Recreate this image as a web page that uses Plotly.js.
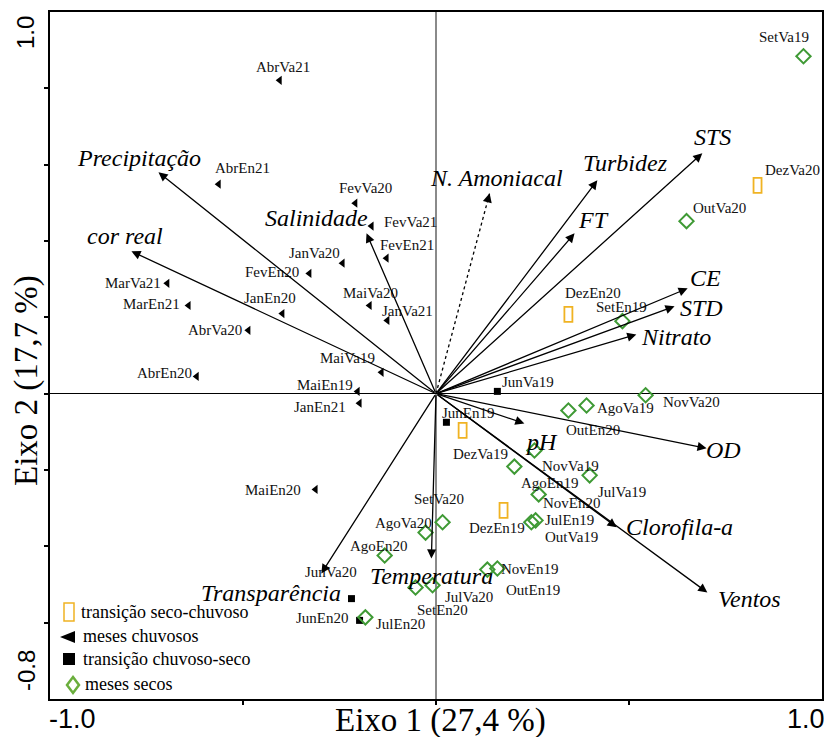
<!DOCTYPE html>
<html>
<head>
<meta charset="utf-8">
<script src="https://cdn.plot.ly/plotly-3.0.1.min.js"></script>
<style>html,body{margin:0;padding:0;background:#fff;}#chart{width:824px;height:737px;}</style>
</head>
<body>
<div id="chart"></div>
<script>
// ---------- DATA ----------
// meses chuvosos (rainy months)
const rainyNames = ["AbrVa21","AbrEn21","FevVa20","FevVa21","FevEn21","JanVa20","FevEn20","MaiVa20","JanVa21","JanEn20","MarVa21","MarEn21","AbrVa20","AbrEn20","MaiVa19","MaiEn19","JanEn21","MaiEn20"];
const rainyX = [-0.405,-0.563,-0.209,-0.167,-0.128,-0.242,-0.328,-0.172,-0.126,-0.398,-0.696,-0.641,-0.486,-0.620,-0.141,-0.203,-0.198,-0.312];
const rainyY = [0.821,0.549,0.499,0.439,0.355,0.342,0.315,0.231,0.192,0.210,0.289,0.231,0.166,0.045,0.056,0.006,-0.025,-0.251];

// transição chuvoso-seco
const transRDNames = ["JunVa19","JunEn19","JunVa20","JunEn20"];
const transRDX = [0.159,0.027,-0.219,-0.198];
const transRDY = [0.006,-0.075,-0.537,-0.594];

// transição seco-chuvoso
const transDRNames = ["DezVa20","DezEn20","DezVa19","DezEn19"];
const transDRX = [0.833,0.343,0.069,0.175];
const transDRY = [0.546,0.208,-0.096,-0.306];

// meses secos (dry months)
const dryNames = ["SetVa19","OutVa20","SetEn19","NovVa20","AgoVa19","OutEn20","NovVa19","AgoEn19","JulVa19","NovEn20","JulEn19","OutVa19","SetVa20","AgoVa20","AgoEn20","NovEn19","OutEn19","JulVa20","SetEn20","JulEn20"];
const dryX = [0.952,0.649,0.483,0.543,0.390,0.343,0.255,0.203,0.398,0.266,0.247,0.258,0.017,-0.027,-0.133,0.133,0.159,-0.009,-0.053,-0.183];
const dryY = [0.884,0.452,0.190,-0.004,-0.031,-0.044,-0.149,-0.191,-0.214,-0.264,-0.337,-0.332,-0.337,-0.364,-0.424,-0.461,-0.458,-0.502,-0.508,-0.586];

// environmental variables (arrows)
const varNames = ["Precipitação","cor real","Salinidade","N. Amoniacal","Turbidez","FT","STS","CE","STD","Nitrato","OD","pH","Clorofila-a","Ventos","Temperatura","Transparência"];
const varX = [-0.719,-0.789,-0.180,0.139,0.418,0.359,0.690,0.652,0.618,0.519,0.701,0.229,0.468,0.703,-0.012,-0.297];
const varY = [0.580,0.373,0.420,0.525,0.559,0.420,0.630,0.276,0.229,0.155,-0.143,-0.078,-0.350,-0.521,-0.432,-0.471];
const varDotted = [false,false,false,true,false,false,false,false,false,false,false,false,false,false,false,false];

// axis labels
const xTitle = "Eixo 1 (27,4 %)";
const yTitle = "Eixo 2 (17,7 %)";
const legendLabels = ["transição seco-chuvoso","meses chuvosos","transição chuvoso-seco","meses secos"];

// ---------- LABEL PLACEMENT (pixel offsets, label centre minus point) ----------
const rainyOff = [[3,-13],[24,-16],[10,-15],[39,-4],[20,-13],[-28,-10],[-37,-1],[1,-13],[20,-9],[-12,-16],[-34,0],[-37,-2],[-33,0],[-32,-3],[-34,-14],[-33,-6],[-40,4],[-43,1]];
const transRDOff = [[31,-9],[22,-9],[-20,-27],[-37,-2]];
const transDROff = [[35,-15],[25,-21],[18,24],[-7,18]];
const dryOff = [[-19,-19],[33,-13],[-1,-14],[46,7],[39,2],[25,20],[36,15],[36,16],[32,17],[33,9],[38,-2],[36,17],[-4,-23],[-22,-10],[-6,-9],[43,-1],[36,22],[36,12],[27,22],[35,7]];
const varOff = [[-19,-14],[-6,-15],[-50,-15],[7,-15],[28,-17],[19,-13],[10,-16],[18,-10],[27,2],[40,2],[17,2],[17,19],[63,0],[42,6],[0,17],[-50,20]];

// ---------- STYLE ----------
const SERIF = "Liberation Serif, Times New Roman, serif";
const SANS = "Liberation Sans, Arial, sans-serif";
const GREEN = "#3f9a35";
const ORANGE = "#f0b323";
const L = 50, T = 12, PW = 772, PH = 687;
const px = v => (v - L) / PW;
const py = v => (T + PH - v) / PH;

const traces = [];
// dotted arrow shafts
varNames.forEach((n,i) => {
  if (varDotted[i]) traces.push({x:[0,varX[i]], y:[0,varY[i]], mode:'lines', line:{color:'black', width:1.3, dash:'dot'}, hoverinfo:'skip'});
});
traces.push({x:rainyX, y:rainyY, text:rainyNames, mode:'markers', marker:{symbol:'triangle-left', size:8, color:'black'}, name:'meses chuvosos'});
traces.push({x:transRDX, y:transRDY, text:transRDNames, mode:'markers', marker:{symbol:'square', size:7, color:'black'}, name:'transição chuvoso-seco'});
traces.push({x:dryX, y:dryY, text:dryNames, mode:'markers', marker:{symbol:'diamond-open', size:11, color:GREEN, line:{width:2, color:GREEN}}, name:'meses secos'});
// invisible anchor for orange rects
traces.push({x:transDRX, y:transDRY, text:transDRNames, mode:'markers', marker:{size:1, color:'rgba(0,0,0,0)'}, name:'transição seco-chuvoso'});

const annotations = [];
const shapes = [];

function addLabels(names, xs, ys, off) {
  names.forEach((n,i) => annotations.push({x:xs[i], y:ys[i], xref:'x', yref:'y', text:n, showarrow:false,
    xshift:off[i][0], yshift:-off[i][1], xanchor:'center', yanchor:'middle', font:{family:SERIF, size:15, color:'#111'}}));
}
addLabels(rainyNames, rainyX, rainyY, rainyOff);
addLabels(transRDNames, transRDX, transRDY, transRDOff);
addLabels(transDRNames, transDRX, transDRY, transDROff);
addLabels(dryNames, dryX, dryY, dryOff);

// arrows
varNames.forEach((n,i) => {
  const f = varDotted[i] ? 0.96 : 0;
  annotations.push({x:varX[i], y:varY[i], ax:varX[i]*f, ay:varY[i]*f, xref:'x', yref:'y', axref:'x', ayref:'y', text:'',
    showarrow:true, arrowhead:2, arrowsize:1.4, arrowwidth:1.3, arrowcolor:'black', standoff:0, startstandoff:0});
  annotations.push({x:varX[i], y:varY[i], xref:'x', yref:'y', text:'<i>'+n+'</i>', showarrow:false,
    xshift:varOff[i][0], yshift:-varOff[i][1], xanchor:'center', yanchor:'middle', font:{family:SERIF, size:24, color:'black'}});
});

// orange rects (transição seco-chuvoso)
transDRX.forEach((x,i) => shapes.push({type:'rect', xref:'x', yref:'y', xsizemode:'pixel', ysizemode:'pixel',
  xanchor:x, yanchor:transDRY[i], x0:-4, x1:4, y0:-7.5, y1:7.5, line:{color:ORANGE, width:1.8}, fillcolor:'rgba(0,0,0,0)'}));

// tick labels and axis titles
annotations.push({xref:'paper', yref:'paper', x:px(72), y:py(719), text:'-1.0', showarrow:false, font:{family:SANS, size:27, color:'black'}, xanchor:'center', yanchor:'middle'});
annotations.push({xref:'paper', yref:'paper', x:px(806), y:py(719), text:'1.0', showarrow:false, font:{family:SANS, size:27, color:'black'}, xanchor:'center', yanchor:'middle'});
annotations.push({xref:'paper', yref:'paper', x:px(26), y:py(33), text:'1.0', showarrow:false, textangle:-90, font:{family:SANS, size:24, color:'black'}, xanchor:'center', yanchor:'middle'});
annotations.push({xref:'paper', yref:'paper', x:px(26), y:py(671), text:'-0.8', showarrow:false, textangle:-90, font:{family:SANS, size:24, color:'black'}, xanchor:'center', yanchor:'middle'});
annotations.push({xref:'paper', yref:'paper', x:px(440), y:py(720), text:xTitle, showarrow:false, font:{family:SERIF, size:33, color:'black'}, xanchor:'center', yanchor:'middle'});
annotations.push({xref:'paper', yref:'paper', x:px(26), y:py(381), text:yTitle, showarrow:false, textangle:-90, font:{family:SERIF, size:33, color:'black'}, xanchor:'center', yanchor:'middle'});

// manual legend
const legY = [612, 636, 659, 684];
const legTX = [79, 81, 81, 83];
legendLabels.forEach((t,i) => annotations.push({xref:'paper', yref:'paper', x:px(legTX[i]), y:py(legY[i]), text:t, showarrow:false,
  font:{family:SERIF, size:18, color:'black'}, xanchor:'left', yanchor:'middle'}));
shapes.push({type:'rect', xref:'paper', yref:'paper', x0:px(64), x1:px(74), y0:py(603), y1:py(621), line:{color:ORANGE, width:1.5}});
shapes.push({type:'path', xref:'paper', yref:'paper', path:`M ${px(60)} ${py(637)} L ${px(75)} ${py(631)} L ${px(75)} ${py(643)} Z`, fillcolor:'black', line:{color:'black', width:0}});
shapes.push({type:'rect', xref:'paper', yref:'paper', x0:px(63), x1:px(75), y0:py(653), y1:py(665), fillcolor:'black', line:{color:'black', width:0}});
shapes.push({type:'path', xref:'paper', yref:'paper', path:`M ${px(73)} ${py(677)} L ${px(79)} ${py(685)} L ${px(73)} ${py(693)} L ${px(67)} ${py(685)} Z`, line:{color:'#6aae3c', width:2.5}});

const layout = {
  width:824, height:737,
  margin:{l:L, r:824-L-PW, t:T, b:737-T-PH, pad:0},
  paper_bgcolor:'white', plot_bgcolor:'white',
  showlegend:false,
  xaxis:{range:[-1,1], showgrid:false, zeroline:true, zerolinecolor:'#8a8a8a', zerolinewidth:1.2,
    showline:true, mirror:true, linecolor:'black', linewidth:2, ticks:'outside', tickvals:[-0.5,0,0.5], ticklen:4, tickwidth:2, tickcolor:'black', showticklabels:false, fixedrange:true},
  yaxis:{range:[-0.8,1], showgrid:false, zeroline:true, zerolinecolor:'black', zerolinewidth:1.2,
    showline:true, mirror:true, linecolor:'black', linewidth:2, ticks:'outside', tickvals:[-0.6,-0.4,-0.2,0,0.2,0.4,0.6,0.8], ticklen:4, tickwidth:2, tickcolor:'black', showticklabels:false, fixedrange:true},
  annotations:annotations,
  shapes:shapes
};
Plotly.newPlot('chart', traces, layout, {displayModeBar:false, staticPlot:true});
</script>
</body>
</html>
